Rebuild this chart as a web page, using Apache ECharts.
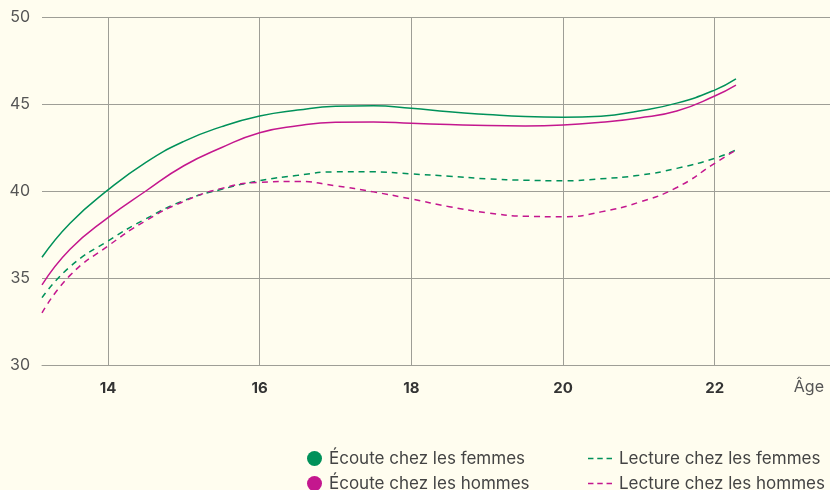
<!DOCTYPE html>
<html>
<head>
<meta charset="utf-8">
<script src="https://cdn.jsdelivr.net/npm/echarts@6/dist/echarts.min.js"></script>
<style>
html,body{margin:0;padding:0;background:#fffdef;}
#c{width:830px;height:490px;}
</style>
</head>
<body>
<div id="c"></div>
<script>
var ages = [13.13, 13.5, 14, 14.5, 15, 15.5, 16, 16.5, 17, 17.5, 18, 18.5, 19, 19.5, 20, 20.5, 21, 21.5, 22, 22.28];
var ecouteFemmes = [36.19, 38.15, 40.06, 41.65, 42.85, 43.7, 44.31, 44.65, 44.87, 44.9, 44.75, 44.55, 44.4, 44.28, 44.24, 44.3, 44.6, 45.05, 45.8, 46.44];
var ecouteHommes = [34.6, 36.65, 38.47, 40.0, 41.45, 42.5, 43.35, 43.75, 43.95, 43.97, 43.89, 43.82, 43.76, 43.74, 43.79, 43.95, 44.2, 44.6, 45.46, 46.09];
var lectureFemmes = [33.87, 35.65, 37.13, 38.4, 39.45, 40.1, 40.59, 40.9, 41.1, 41.1, 40.98, 40.85, 40.7, 40.62, 40.59, 40.7, 40.9, 41.3, 41.88, 42.36];
var lectureHommes = [33.0, 35.15, 36.84, 38.3, 39.4, 40.15, 40.5, 40.55, 40.3, 39.95, 39.54, 39.1, 38.75, 38.55, 38.52, 38.8, 39.35, 40.2, 41.59, 42.36];
var xTicks = [14, 16, 18, 20, 22];
var seriesNames = ['Écoute chez les femmes', 'Écoute chez les hommes', 'Lecture chez les femmes', 'Lecture chez les hommes'];
var xName = 'Âge';

var GREEN = '#00915a', MAGENTA = '#c4178e';
var DASH_ICON = 'path://M0,0H5V1.4H0Z M8.5,0H13.5V1.4H8.5Z M17,0H22V1.4H17Z';
function pts(vals){ return ages.map(function(a,i){ return [a, vals[i]]; }); }
function mk(name, vals, color, dashed){
  return {
    name: name, type: 'line', data: pts(vals), smooth: true,
    symbol: 'none', showSymbol: false, silent: true,
    lineStyle: {color: color, width: 1.5, type: dashed ? [6, 5] : 'solid'},
    itemStyle: {color: color}
  };
}
var chart = echarts.init(document.getElementById('c'), null, {renderer: 'canvas'});
chart.setOption({
  backgroundColor: '#fffdef',
  animation: false,
  textStyle: {fontFamily: 'Inter, "Noto Sans", sans-serif'},
  grid: {left: 42, right: 0, top: 17, bottom: 125, containLabel: false},
  xAxis: {
    type: 'value', min: 13.13, max: 23.52,
    axisLine: {show: true, lineStyle: {color: '#9e9e96', width: 1}},
    axisTick: {show: false, customValues: xTicks},
    axisLabel: {customValues: xTicks, color: '#333333', fontWeight: 'bold', fontSize: 15, margin: 16, fontFamily: 'Inter, sans-serif'},
    splitLine: {show: true, lineStyle: {color: '#9e9e96', width: 1}}
  },
  yAxis: {
    type: 'value', min: 30, max: 50, interval: 5,
    axisLine: {show: false}, axisTick: {show: false},
    axisLabel: {color: '#555555', fontSize: 16, margin: 12, fontFamily: 'Inter, sans-serif'},
    splitLine: {show: true, lineStyle: {color: '#9e9e96', width: 1}}
  },
  legend: [
    {
      orient: 'vertical', left: 307, top: 450, height: 60, padding: 0,
      itemWidth: 15, itemHeight: 15, itemGap: 8,
      data: [{name: seriesNames[0], icon: 'circle'}, {name: seriesNames[1], icon: 'circle'}],
      textStyle: {color: '#444444', fontSize: 17, fontFamily: 'Inter, sans-serif', padding: [0, 0, 0, 2]},
      selectedMode: false
    },
    {
      orient: 'vertical', left: 588, top: 450, height: 60, padding: 0,
      itemWidth: 24, itemHeight: 15, itemGap: 8,
      data: [{name: seriesNames[2], icon: DASH_ICON, itemStyle: {color: GREEN}},
             {name: seriesNames[3], icon: DASH_ICON, itemStyle: {color: MAGENTA}}],
      itemStyle: {borderWidth: 0},
      lineStyle: {width: 0},
      textStyle: {color: '#444444', fontSize: 17, fontFamily: 'Inter, sans-serif', padding: [0, 0, 0, 2]},
      selectedMode: false
    }
  ],
  graphic: [{
    type: 'text', right: 6, top: 379,
    style: {text: xName, fill: '#555555', font: '16px Inter, sans-serif'}
  }],
  series: [
    mk(seriesNames[0], ecouteFemmes, GREEN, false),
    mk(seriesNames[1], ecouteHommes, MAGENTA, false),
    mk(seriesNames[2], lectureFemmes, GREEN, true),
    mk(seriesNames[3], lectureHommes, MAGENTA, true)
  ]
});
</script>
</body>
</html>
